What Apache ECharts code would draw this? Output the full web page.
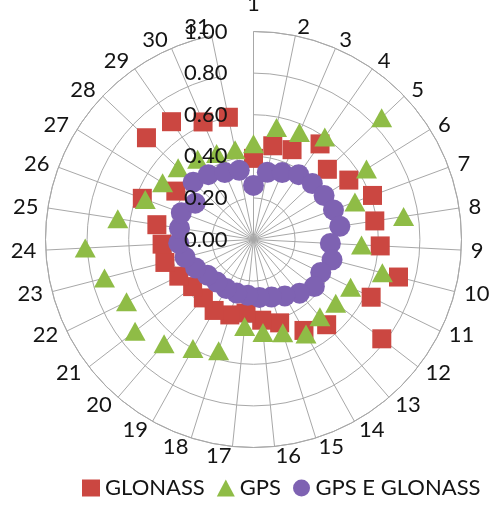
<!DOCTYPE html>
<html>
<head>
<meta charset="utf-8">
<script src="https://cdn.jsdelivr.net/npm/echarts@6/dist/echarts.min.js"></script>
<style>
  html, body { margin: 0; padding: 0; background: #ffffff; }
  #chart { width: 493px; height: 507px; }
</style>
</head>
<body>
<div id="chart"></div>
<script>
// Spoke labels (one per day / satellite slot)
const categories = ['1','2','3','4','5','6','7','8','9','10','11','12','13','14','15','16',
  '17','18','19','20','21','22','23','24','25','26','27','28','29','30','31'];

// Series values, one per spoke
const glonass = [0.39, 0.46, 0.47, 0.56, 0.49, 0.54, 0.61, 0.59, 0.61, 0.72, 0.63, 0.78, 0.54, 0.50, 0.42, 0.39,
  0.355, 0.38, 0.39, 0.37, 0.37, 0.40, 0.44, 0.44, 0.47, 0.57, 0.44, 0.71, 0.69, 0.615, 0.60];
const gps = [0.46, 0.55, 0.56, 0.60, 0.85, 0.64, 0.52, 0.73, 0.52, 0.64, 0.52, 0.50, 0.49, 0.52, 0.47, 0.45,
  0.42, 0.56, 0.60, 0.66, 0.72, 0.68, 0.74, 0.81, 0.66, 0.555, 0.515, 0.50, 0.47, 0.45, 0.44];
const gpsEGlonass = [0.26, 0.33, 0.35, 0.38, 0.39, 0.40, 0.41, 0.42, 0.37, 0.39, 0.36, 0.37, 0.34, 0.31, 0.29, 0.28,
  0.27, 0.27, 0.27, 0.27, 0.28, 0.31, 0.34, 0.36, 0.36, 0.37, 0.33, 0.40, 0.38, 0.35, 0.34];

// Radial scale
const radiusMin = 0;
const radiusMax = 1;
const radiusStep = 0.2;

const FONT = 'Lato';
const FONT_SIZE = 22;
const TEXT = '#141414';
const GRID = '#a8a8a8';
const CENTER = [253.5, 239.5];
const RADIUS = 208;
const LABEL_DIST = 217.5;   // distance of the near edge of a spoke label from the centre
const TOP_LIFT = 18;        // the label straight above the centre sits higher

// Spoke labels: each one is anchored at the polar centre and pushed out with
// padding, so that its inner edge rests on the spoke and it is centred vertically on it.
const measureCtx = document.createElement('canvas').getContext('2d');
measureCtx.font = FONT_SIZE + 'px ' + FONT;
const spokeRich = {};
categories.forEach((name, i) => {
  const theta = i * 2 * Math.PI / categories.length;
  const s = Math.sin(theta);
  const c = Math.cos(theta);
  const w = measureCtx.measureText(name).width;
  let dx = LABEL_DIST * s;
  if (s > 0.02) dx += w / 2; else if (s < -0.02) dx -= w / 2;
  let dy = -LABEL_DIST * c;
  if (c > 0.99) dy -= TOP_LIFT;
  spokeRich['k' + i] = {
    fontFamily: FONT,
    fontSize: FONT_SIZE,
    color: TEXT,
    padding: [dy > 0 ? 2 * dy : 0, dx < 0 ? -2 * dx : 0, dy < 0 ? -2 * dy : 0, dx > 0 ? 2 * dx : 0]
  };
});

const chart = echarts.init(document.getElementById('chart'), null, { renderer: 'canvas' });

const toPoints = arr => arr.map((v, i) => [v, i]);

chart.setOption({
  animation: false,
  backgroundColor: '#ffffff',
  polar: [
    { center: CENTER, radius: RADIUS },
    { center: CENTER, radius: RADIUS }
  ],
  angleAxis: [
    {
      polarIndex: 0,
      type: 'category',
      data: categories,
      boundaryGap: false,
      startAngle: 90,
      clockwise: true,
      axisLine: { show: true, lineStyle: { color: GRID, width: 1 } },
      axisTick: { show: false },
      axisLabel: {
        interval: 0,
        margin: -RADIUS,
        fontFamily: FONT,
        fontSize: FONT_SIZE,
        color: TEXT,
        formatter: value => '{k' + categories.indexOf(value) + '|' + value + '}',
        rich: spokeRich
      },
      splitLine: { show: true, interval: 0, lineStyle: { color: GRID, width: 1 } }
    },
    {
      polarIndex: 1,
      type: 'category',
      data: categories,
      boundaryGap: false,
      startAngle: 90,
      show: false
    }
  ],
  radiusAxis: [
    {
      polarIndex: 0,
      type: 'value',
      min: radiusMin,
      max: radiusMax,
      interval: radiusStep,
      axisLine: { show: false },
      axisTick: { show: false },
      axisLabel: { show: false },
      splitLine: { show: true, lineStyle: { color: GRID, width: 1 } }
    },
    {
      // value labels drawn above the markers
      polarIndex: 1,
      type: 'value',
      min: radiusMin,
      max: radiusMax,
      interval: radiusStep,
      z: 10,
      axisLine: { show: false },
      axisTick: { show: false },
      splitLine: { show: false },
      axisLabel: {
        margin: 26,
        fontFamily: FONT,
        fontSize: FONT_SIZE,
        color: TEXT,
        formatter: v => v.toFixed(2)
      }
    }
  ],
  legend: {
    left: 77,
    bottom: 3,
    itemWidth: 18,
    itemHeight: 17,
    itemGap: 12,
    textStyle: { fontFamily: FONT, fontSize: FONT_SIZE, color: TEXT },
    data: [
      { name: 'GLONASS', icon: 'rect' },
      { name: 'GPS', icon: 'triangle' },
      { name: 'GPS E GLONASS', icon: 'circle' }
    ]
  },
  series: [
    {
      name: 'GLONASS',
      type: 'scatter',
      coordinateSystem: 'polar',
      polarIndex: 0,
      symbol: 'rect',
      symbolSize: 19,
      itemStyle: { color: '#CB4741', opacity: 1 },
      emphasis: { disabled: true },
      data: toPoints(glonass)
    },
    {
      name: 'GPS',
      type: 'scatter',
      coordinateSystem: 'polar',
      polarIndex: 0,
      symbol: 'triangle',
      symbolSize: [21, 19],
      itemStyle: { color: '#8FBC46', opacity: 1 },
      emphasis: { disabled: true },
      data: toPoints(gps)
    },
    {
      name: 'GPS E GLONASS',
      type: 'scatter',
      coordinateSystem: 'polar',
      polarIndex: 0,
      symbol: 'circle',
      symbolSize: 21,
      itemStyle: { color: '#7E62B2', opacity: 1 },
      emphasis: { disabled: true },
      data: toPoints(gpsEGlonass)
    }
  ]
});
</script>
</body>
</html>
